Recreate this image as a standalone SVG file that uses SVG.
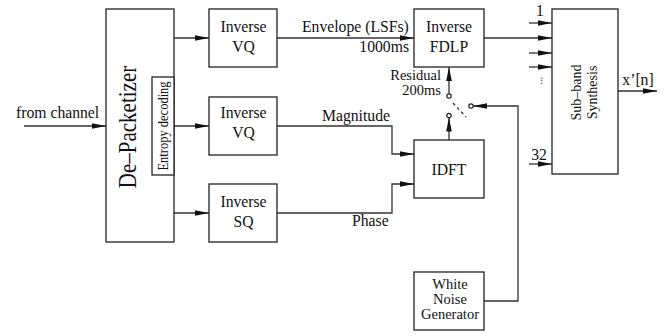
<svg xmlns="http://www.w3.org/2000/svg" width="670" height="336" viewBox="0 0 670 336">
<style>
.box{fill:#fff;stroke:#222;stroke-width:1.3}
.ln{fill:none;stroke:#333;stroke-width:1.3}
.t{font-family:"Liberation Serif","Times New Roman",serif;font-size:15.7px;fill:#111}
.c{text-anchor:middle}
.e{text-anchor:end}
.dot{fill:#fff;stroke:#222;stroke-width:1.2}
</style>
<defs>
<marker id="ah" viewBox="0 0 14 8" refX="14" refY="4" markerWidth="14" markerHeight="8" orient="auto" markerUnits="userSpaceOnUse">
<path d="M0,1.2 L14,4 L0,6.8 z" fill="#111"/>
</marker>
</defs>
<rect width="670" height="336" fill="#fff"/>

<g id="connectors">
<line class="ln" x1="24" y1="126" x2="106" y2="126" marker-end="url(#ah)"/>
<line class="ln" x1="174" y1="38" x2="209" y2="38" marker-end="url(#ah)"/>
<line class="ln" x1="174" y1="126" x2="209" y2="126" marker-end="url(#ah)"/>
<line class="ln" x1="174" y1="213" x2="209" y2="213" marker-end="url(#ah)"/>
<line class="ln" x1="277" y1="38" x2="414" y2="38" marker-end="url(#ah)"/>
<polyline class="ln" points="277,126 392,126 392,154 414,154" marker-end="url(#ah)"/>
<polyline class="ln" points="277,213 392,213 392,184 414,184" marker-end="url(#ah)"/>
<line class="ln" x1="484" y1="38" x2="552" y2="38" marker-end="url(#ah)"/>
<line class="ln" x1="529" y1="23" x2="552" y2="23" marker-end="url(#ah)"/>
<line class="ln" x1="529" y1="53" x2="552" y2="53" marker-end="url(#ah)"/>
<line class="ln" x1="529" y1="67" x2="552" y2="67" marker-end="url(#ah)"/>
<line class="ln" x1="529" y1="164" x2="552" y2="164" marker-end="url(#ah)"/>
<line class="ln" x1="618" y1="91" x2="657" y2="91" marker-end="url(#ah)"/>
<line class="ln" x1="449" y1="94" x2="449" y2="67" marker-end="url(#ah)"/>
<line class="ln" x1="449" y1="140" x2="449" y2="117.5" marker-end="url(#ah)"/>
<polyline class="ln" points="484,301 518,301 518,106 473,106" marker-end="url(#ah)"/>
<line class="ln" x1="453" y1="103" x2="466" y2="117" stroke-dasharray="3,3"/>
<circle class="dot" cx="449" cy="96" r="2.2"/>
<circle class="dot" cx="449" cy="115.5" r="2.2"/>
<circle class="dot" cx="471" cy="106" r="2.2"/>
<text class="t" x="16" y="118">from channel</text>
<text class="t" x="302" y="32">Envelope (LSFs)</text>
<text class="t e" x="409" y="52">1000ms</text>
<text class="t e" x="441" y="80" style="font-size:14.5px">Residual</text>
<text class="t e" x="441" y="95" style="font-size:14.5px">200ms</text>
<text class="t" x="322" y="121">Magnitude</text>
<text class="t" x="352" y="226">Phase</text>
<text class="t c" x="540" y="16">1</text>
<text class="t c" x="539" y="160">32</text>
<text class="t" x="538" y="80" style="font-size:10px" transform="rotate(90 541 80)">...</text>
<text class="t c" x="638" y="85">x’[n]</text>
</g>

<g id="depacketizer">
<rect class="box" x="106" y="9" width="68" height="233"/>
<text class="t c" style="font-size:21px" transform="translate(136,127) rotate(-90) scale(1,1.2)">De–Packetizer</text>
</g>
<g id="entropy">
<rect class="box" x="152" y="77" width="22" height="98"/>
<text class="t c" style="font-size:12.5px" transform="translate(167.5,126) rotate(-90) scale(1,1.15)">Entropy decoding</text>
</g>
<g id="ivq1">
<rect class="box" x="209" y="9" width="68" height="58"/>
<text class="t c" x="243.5" y="32">Inverse</text>
<text class="t c" x="243.5" y="52">VQ</text>
</g>
<g id="ivq2">
<rect class="box" x="209" y="97" width="68" height="58"/>
<text class="t c" x="243.5" y="118">Inverse</text>
<text class="t c" x="243.5" y="138">VQ</text>
</g>
<g id="isq">
<rect class="box" x="209" y="184" width="68" height="58"/>
<text class="t c" x="243.5" y="207">Inverse</text>
<text class="t c" x="243.5" y="227">SQ</text>
</g>
<g id="fdlp">
<rect class="box" x="414" y="9" width="70" height="58"/>
<text class="t c" x="449" y="32">Inverse</text>
<text class="t c" x="449" y="52">FDLP</text>
</g>
<g id="idft">
<rect class="box" x="414" y="140" width="70" height="58"/>
<text class="t c" x="449" y="175">IDFT</text>
</g>
<g id="wng">
<rect class="box" x="414" y="272" width="70" height="58"/>
<text class="t c" x="450" y="289" style="font-size:14.5px">White</text>
<text class="t c" x="450" y="304" style="font-size:14.5px">Noise</text>
<text class="t c" x="450" y="319" style="font-size:14.5px">Generator</text>
</g>
<g id="subband">
<rect class="box" x="552" y="9" width="66" height="165"/>
<text class="t c" style="font-size:14px" transform="translate(581,92.5) rotate(-90)">Sub–band</text>
<text class="t c" style="font-size:14px" transform="translate(597,92.5) rotate(-90)">Synthesis</text>
</g>
</svg>
